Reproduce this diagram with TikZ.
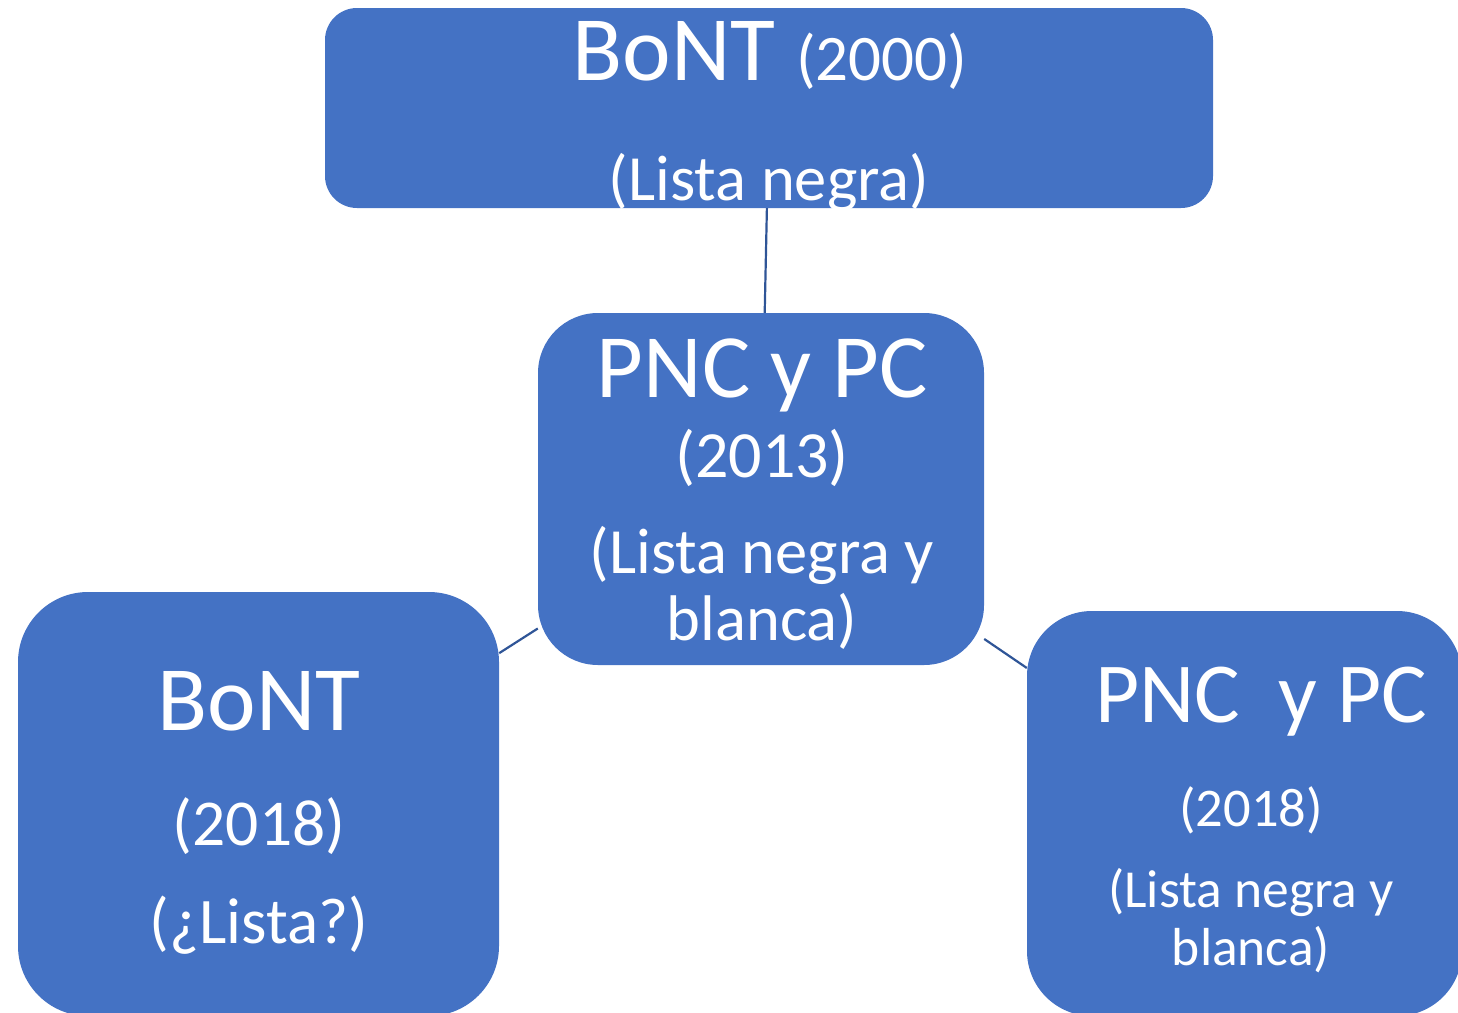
\documentclass[tikz,border=0pt]{standalone}
\usepackage{fontspec}
\setmainfont{Carlito}
\definecolor{boxblue}{HTML}{4472C4}
\definecolor{linkblue}{HTML}{2F5597}
\newcommand{\fsz}[1]{\fontsize{#1}{#1}\selectfont}
\begin{document}
\begin{tikzpicture}[x=1pt,y=-1pt,
  box/.style={draw=none, fill=boxblue, rectangle, inner sep=0pt},
  lbl/.style={text=white, anchor=base, inner sep=0pt},
  link/.style={draw=linkblue, line width=2.2pt}]
\useasboundingbox (0,0) rectangle (1458,1012);
\node[box, rounded corners=32pt, minimum width=888pt, minimum height=200pt] (top) at (769,108) {};
\node[box, rounded corners=60pt, minimum width=446pt, minimum height=352pt] (mid) at (761,489) {};
\node[box, rounded corners=70pt, minimum width=481pt, minimum height=424pt] (left) at (258.5,804) {};
\node[box, rounded corners=65pt, minimum width=435pt, minimum height=405pt] (right) at (1244.5,813.5) {};
\draw[link] (top) -- (mid);
\draw[link] (left) -- (mid);
\draw[link] (mid) -- (right);
% top box text
\node[lbl] (t1) at (770,80) {\fsz{92}BoNT {\fsz{65}(2000)}};
\node[lbl] (t2) at (769,200) {\fsz{64.5}(Lista negra)};
% middle box text
\node[lbl] (m1) at (762,397) {\fsz{90.5}PNC y PC};
\node[lbl] (m2) at (762,477) {\fsz{66}(2013)};
\node[lbl] (m3) at (762,573) {\fsz{64.5}(Lista negra y};
\node[lbl] (m4) at (762,640) {\fsz{64.5}blanca)};
% left box text
\node[lbl] (l1) at (259,730) {\fsz{92}BoNT};
\node[lbl] (l2) at (259,845) {\fsz{65.5}(2018)};
\node[lbl] (l3) at (259,943) {\fsz{65}(¿Lista?)};
% right box text
\node[lbl] (r1) at (1261,722) {\fsz{85.5}PNC \ y PC};
\node[lbl] (r2) at (1251,826) {\fsz{54.5}(2018)};
\node[lbl] (r3) at (1251,907) {\fsz{53.5}(Lista negra y};
\node[lbl] (r4) at (1251,965) {\fsz{53.5}blanca)};
\end{tikzpicture}
\end{document}
